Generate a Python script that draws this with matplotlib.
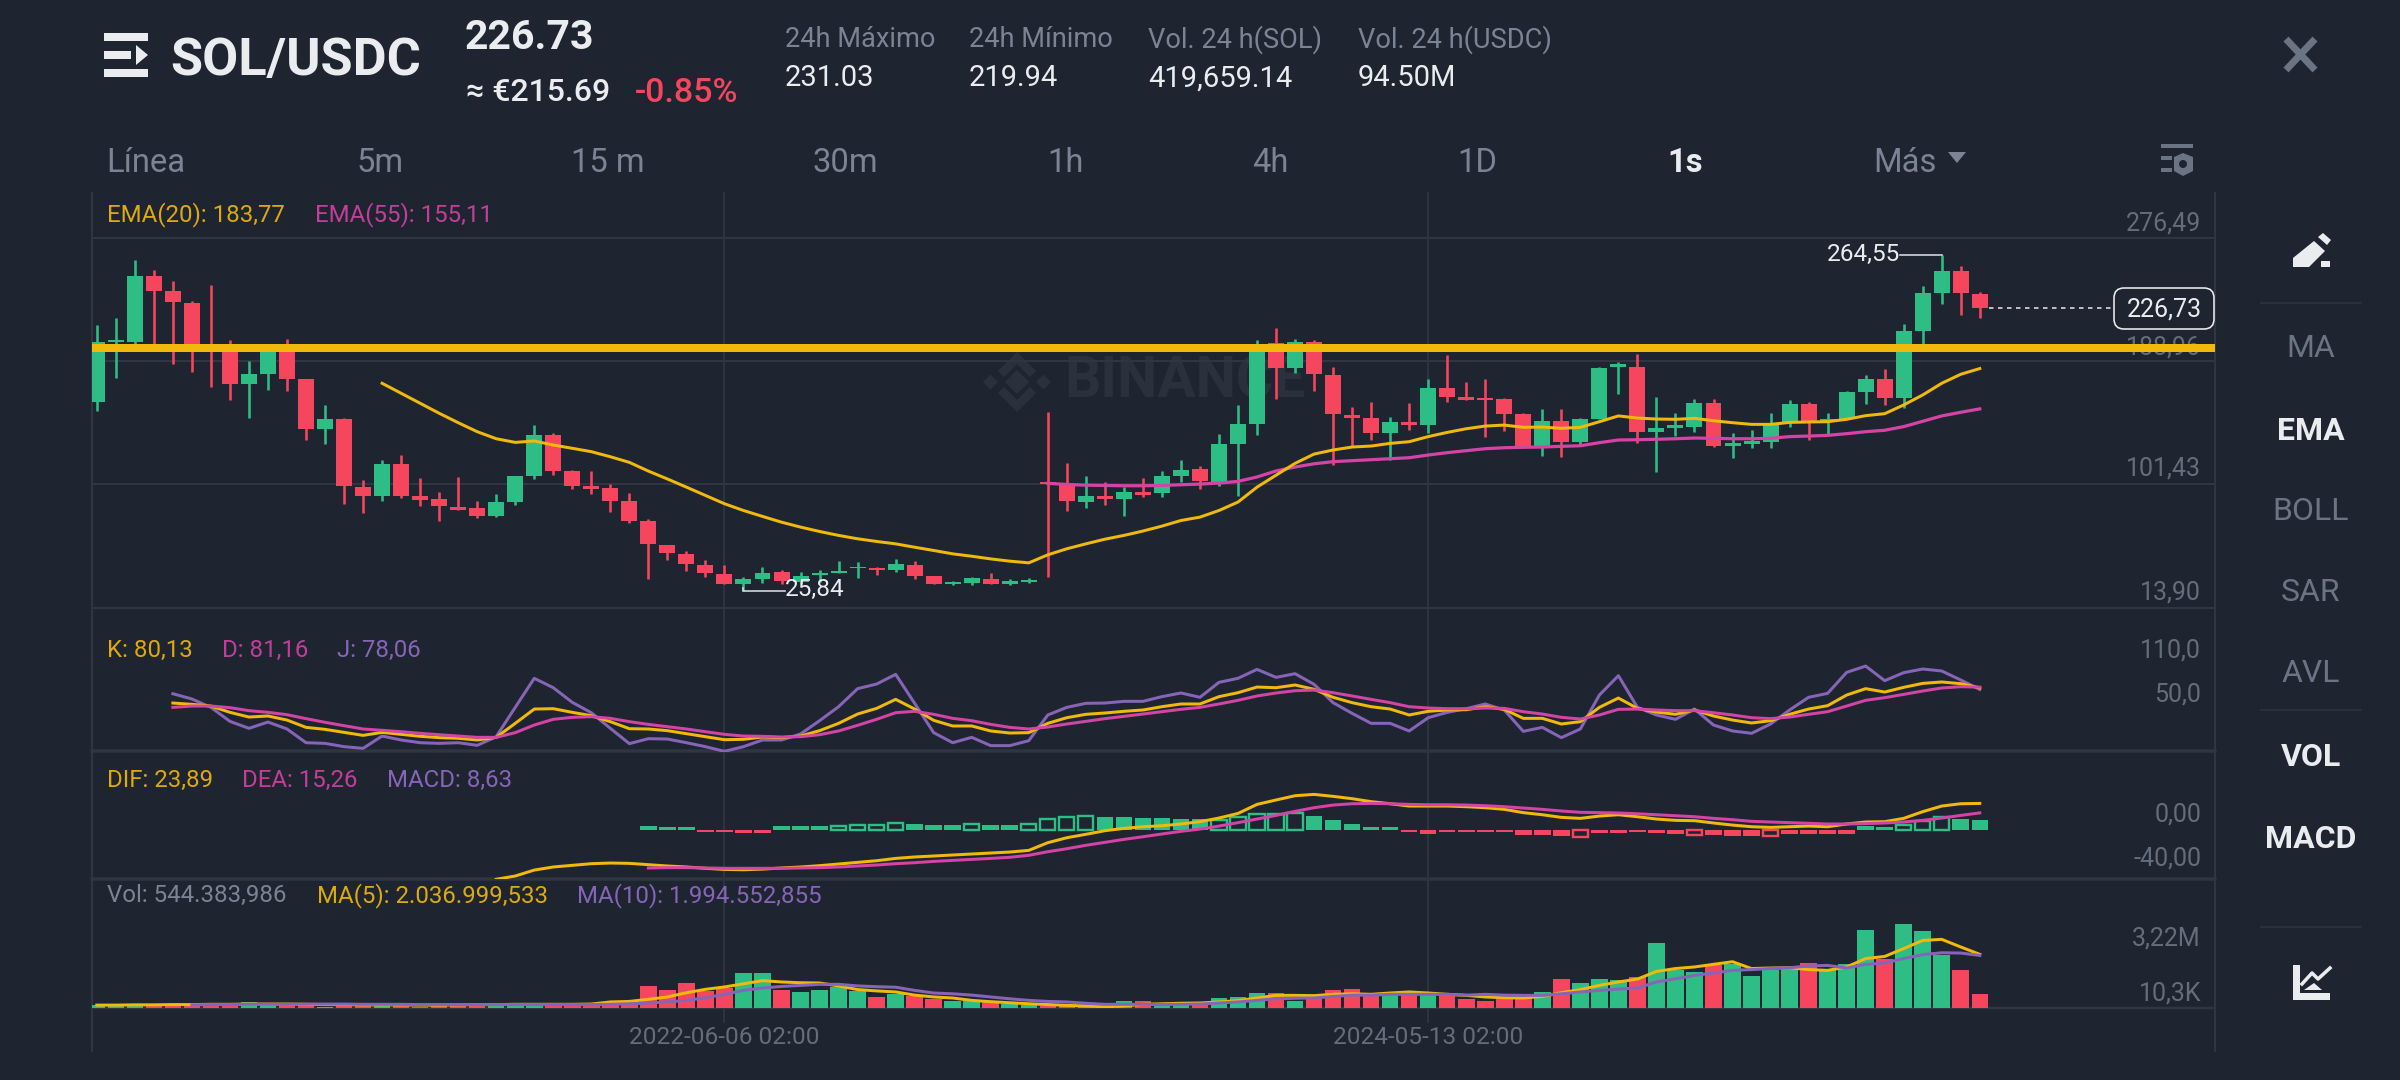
import numpy as np
import matplotlib
matplotlib.use("Agg")
import matplotlib.pyplot as plt
from matplotlib.patches import Polygon, Rectangle, FancyBboxPatch, Circle

# ---------- data ----------
open_ = [160.3,202.5,202.7,249.7,238.8,230.2,199.4,199.4,173.1,180.0,
 199.4,176.4,140.8,148.0,99.5,93.4,115.7,92.9,91.0,85.3,
 84.6,78.9,88.6,107.1,136.8,110.9,100.3,99.1,89.6,75.3,
 58.7,52.1,44.3,38.1,30.5,34.1,39.0,32.4,37.2,38.6,
 41.9,42.1,40.5,44.5,36.2,30.5,31.7,34.5,31.0,32.4,
 103.1,100.9,89.1,93.4,90.8,95.7,95.3,107.4,112.1,103.1,
 130.1,144.6,201.8,184.0,202.5,179.2,151.0,148.6,138.2,145.8,
 143.9,170.0,163.3,162.9,162.2,151.2,128.7,146.5,131.6,147.9,
 184.9,184.9,138.4,141.8,142.2,159.1,128.5,130.4,131.8,145.5,
 158.6,146.3,147.9,167.4,176.4,162.6,210.5,237.8,253.0,236.9]
close = [202.5,204.4,249.7,238.8,231.4,198.2,197.0,173.1,180.0,199.4,
 176.6,140.8,148.0,100.0,93.4,115.7,92.9,90.5,85.8,83.4,
 78.9,88.6,107.1,136.5,111.2,100.3,98.4,89.8,75.3,59.0,
 52.8,45.0,38.3,30.5,34.3,38.8,33.1,36.2,38.6,40.0,
 42.8,40.9,44.7,36.4,30.5,31.9,34.8,31.0,32.6,33.8,
 101.7,89.3,93.4,90.8,95.7,94.1,107.1,111.9,103.6,129.9,
 144.1,195.6,184.0,202.5,179.7,151.7,148.6,138.2,145.8,143.4,
 170.0,163.3,161.4,161.2,151.2,128.7,146.5,131.6,147.9,184.5,
 186.8,138.4,141.5,143.4,159.1,128.5,130.6,132.0,143.6,158.6,
 146.0,148.2,167.1,176.4,162.6,210.1,237.4,253.0,237.1,226.73]
high = [214.8,220.0,260.6,253.7,246.1,231.9,243.3,204.1,189.2,200.6,
 204.9,176.4,157.6,148.4,104.5,118.5,122.5,105.7,95.7,106.4,
 89.8,94.6,107.1,143.4,138.2,111.9,110.7,101.7,95.0,77.2,
 58.7,54.2,47.8,44.3,35.7,42.6,40.7,39.3,40.7,47.1,
 46.2,42.8,48.1,46.9,36.2,32.6,35.7,38.8,34.1,35.0,
 152.9,116.8,107.1,103.1,99.5,106.2,110.7,118.5,114.7,137.5,
 157.6,204.4,212.9,204.9,204.1,184.7,156.2,160.0,149.1,159.3,
 176.2,193.5,174.0,176.4,163.1,152.0,155.0,154.8,148.4,185.2,
 188.5,193.9,163.6,152.2,162.4,162.0,137.7,139.9,152.4,161.7,
 160.0,152.2,167.6,179.2,183.3,215.5,242.1,264.55,256.8,238.3]
low = [153.4,177.3,201.3,199.4,187.1,181.4,170.5,161.2,148.4,168.6,
 167.9,133.2,130.1,87.7,80.8,89.3,91.5,85.8,75.3,83.4,
 77.7,78.2,87.0,105.5,108.3,98.4,94.8,82.0,73.7,34.3,
 47.8,39.8,35.5,30.5,25.84,31.5,30.8,30.8,31.9,38.6,
 34.8,37.4,39.0,34.1,30.5,30.0,30.3,30.8,29.8,31.5,
 35.9,82.7,84.8,86.9,78.7,92.2,92.4,103.3,98.1,100.5,
 92.9,136.5,162.4,180.4,168.1,115.2,128.2,132.8,118.8,140.1,
 138.2,159.8,161.4,135.1,139.6,128.0,121.6,120.9,128.7,147.7,
 165.5,131.1,110.0,135.8,138.9,128.0,120.4,127.1,127.3,142.2,
 133.2,137.5,147.7,158.8,158.1,155.5,199.4,229.8,221.7,220.0]

ema20_start = 15
ema20 = [173.3,166.2,159.1,152.0,145.3,138.9,133.9,131.3,132.3,129.4,127.1,124.7,121.1,117.1,110.9,105.3,
 99.5,93.6,87.7,82.9,78.7,74.6,71.1,68.0,65.2,62.8,60.9,59.2,56.8,54.5,52.1,50.4,48.5,46.9,45.7,
 51.4,55.7,59.2,62.5,65.2,68.3,71.8,75.8,78.2,82.9,88.9,99.5,108.0,116.4,123.0,125.9,128.0,128.7,130.6,131.8,
 135.4,138.4,141.0,142.9,143.6,142.0,142.2,141.3,142.0,146.0,150.1,148.6,147.9,147.7,148.4,146.7,145.3,144.1,
 144.1,145.5,145.8,146.0,147.7,150.3,151.7,157.9,165.0,173.3,179.7,183.77]
ema55_start = 50
ema55 = [102.2,101.4,100.9,100.7,100.5,100.5,100.7,101.2,101.7,102.4,103.6,106.7,111.0,113.8,116.1,117.6,118.3,
 119.0,119.7,120.4,122.3,124.0,125.4,126.8,127.5,127.8,128.0,128.5,128.9,131.1,133.0,133.2,133.5,133.9,134.4,
 134.2,133.9,133.9,134.2,135.4,135.8,136.3,137.5,138.9,139.9,142.5,146.3,150.1,152.7,155.11]
support_level = 198.5

kdj_start = 4
kdj_j = [72.2,65.0,53.6,34.5,25.0,33.6,24.1,5.4,4.5,0.0,-2.3,14.5,9.1,5.4,4.5,5.4,1.8,13.6,53.6,93.2,
 80.4,60.4,46.3,25.0,4.1,10.9,10.4,5.4,0.0,-6.4,0.0,9.1,9.1,17.3,35.4,54.5,79.1,85.4,98.6,59.1,
 19.1,5.4,12.7,1.4,1.4,8.2,43.2,53.6,
 59.1,59.5,61.8,61.8,68.2,73.2,67.3,87.7,93.2,105.4,94.5,99.5,85.0,60.0,45.4,31.8,31.8,21.4,39.5,46.8,
 51.8,58.2,50.0,20.9,26.3,12.3,24.1,70.4,96.8,53.6,43.2,37.3,51.3,29.5,21.4,18.2,30.9,50.0,67.3,72.7,
 101.3,109.9,90.0,100.9,105.9,103.2,90.9,78.06]
kdj_k = [59.5,57.7,55.4,46.8,40.4,41.8,36.3,26.3,23.6,19.5,15.4,19.5,16.8,14.1,12.3,11.4,9.1,12.7,31.8,51.3,
 51.8,46.8,42.2,34.1,24.5,24.1,21.8,17.7,13.6,9.5,10.0,13.2,12.3,14.5,21.8,31.8,44.5,52.2,64.5,51.3,
 35.9,28.2,28.2,21.4,18.6,19.1,31.8,39.5,
 44.1,45.9,48.2,50.0,54.5,58.2,58.2,68.2,73.6,81.3,80.4,84.1,78.2,67.3,60.0,54.5,51.3,43.2,48.2,50.0,
 50.4,54.5,50.9,38.6,38.6,30.9,34.1,53.6,66.3,52.2,47.2,44.1,50.0,41.8,36.3,32.3,35.4,44.1,51.3,55.9,
 70.4,79.1,74.5,80.9,86.3,88.2,85.9,80.13]
kdj_d = [53.6,55.4,55.4,53.2,49.1,46.8,43.6,38.2,33.2,28.6,24.1,22.3,20.4,18.2,16.3,14.5,12.7,12.7,19.1,29.5,
 37.3,40.0,40.9,38.6,34.1,30.4,27.2,24.1,20.4,16.8,14.5,14.1,13.2,13.6,16.3,21.4,29.1,37.3,46.3,48.2,
 44.1,38.6,35.4,30.4,26.3,24.1,26.8,30.9,
 34.5,38.2,41.3,44.5,47.7,50.9,53.6,58.2,63.2,69.1,73.2,76.3,77.2,73.6,69.1,64.5,60.0,54.5,52.7,51.8,
 51.8,52.7,52.2,47.7,44.5,40.0,37.7,43.2,50.9,51.3,50.0,49.1,49.1,46.3,43.2,39.5,38.2,40.4,44.1,47.7,
 55.4,63.2,66.8,71.3,75.9,80.0,81.8,81.16]

dif_start = 21
dif = [-45.1,-42.1,-36.7,-33.9,-32.4,-30.9,-30.3,-30.6,-31.8,-33.0,-33.9,-35.1,-36.1,-36.4,-35.8,-34.8,-33.9,-32.7,-31.2,-29.7,
 -28.2,-26.1,-24.8,-23.9,-23.0,-22.1,-21.2,-20.3,-18.8,-11.8,-7.3,
 -4.2,-0.9,1.2,2.7,3.6,5.2,7.3,10.6,14.8,23.0,27.0,30.9,32.1,30.3,28.2,25.5,23.6,21.5,21.5,21.5,
 20.9,20.0,18.5,15.5,13.6,11.2,10.3,12.4,13.6,11.8,9.7,8.5,8.2,6.1,4.2,2.7,2.1,2.7,3.3,2.7,
 5.2,7.0,7.3,10.3,16.4,21.5,23.6,23.89]
dea_start = 29
dea = [-34.8,-34.5,-34.5,-34.8,-35.1,-35.1,-35.1,-35.1,-34.8,-34.5,-33.9,-33.0,-32.1,-30.9,-30.0,-28.8,-27.9,-27.0,-26.1,-25.1,
 -23.3,-20.0,-17.3,
 -14.2,-11.5,-8.8,-6.4,-3.9,-1.5,0.6,3.3,6.4,9.7,13.0,16.7,20.0,22.4,23.6,23.9,23.6,23.0,22.7,22.7,
 22.4,21.8,20.9,19.7,18.5,17.0,15.8,15.5,15.2,14.5,13.6,12.7,11.8,10.3,9.1,7.6,7.0,6.4,5.8,5.2,
 5.2,5.5,6.1,7.0,8.5,10.6,13.0,15.26]
hist_start = 29
hist = [3.3,2.7,2.4,-2.4,-2.4,-3.3,-3.3,3.3,3.3,3.3,3.3,4.2,4.5,5.8,4.8,4.5,4.5,5.2,4.5,4.5,
 5.2,9.4,11.2,12.4,11.5,11.2,10.3,10.3,9.7,9.4,8.8,11.2,14.2,14.2,15.5,12.4,8.5,5.2,2.4,2.4,
 -2.4,-3.6,-2.4,-2.4,-2.4,-2.4,-4.8,-4.8,-5.8,-6.4,-3.3,-3.3,-2.4,-3.0,-3.6,-4.5,-4.8,-5.8,-5.8,-5.8,
 -3.6,-3.6,-3.6,-3.6,3.3,2.4,4.5,7.9,11.2,10.0,8.63]
hist_hollow = [39,40,41,42,46,49,50,51,52,59,60,61,62,63,78,84,88,95,96,97]

volume = [0.10,0.10,0.10,0.10,0.10,0.10,0.13,0.13,0.24,0.13,
 0.14,0.14,0.04,0.14,0.14,0.13,0.10,0.04,0.14,0.14,
 0.14,0.14,0.14,0.14,0.14,0.14,0.14,0.23,0.23,0.82,
 0.70,0.96,0.65,0.75,1.32,1.32,0.67,0.61,0.70,0.80,
 0.63,0.42,0.54,0.44,0.33,0.27,0.32,0.23,0.16,0.10,
 0.06,0.06,0.10,0.13,0.25,0.27,0.20,0.19,0.16,0.38,
 0.42,0.57,0.57,0.27,0.35,0.70,0.71,0.44,0.48,0.48,
 0.57,0.57,0.34,0.28,0.42,0.39,0.62,1.09,0.96,1.11,
 1.06,1.18,2.48,1.46,1.38,1.62,1.66,1.23,1.43,1.50,
 1.70,1.43,1.69,2.98,1.88,3.21,2.93,2.00,1.46,0.544]
vol_ma5 = [0.11,0.11,0.12,0.12,0.13,0.13,0.14,0.14,0.15,0.15,0.15,0.14,0.13,0.13,0.12,0.12,0.12,0.11,0.11,0.12,0.13,0.13,0.14,0.14,0.14,0.14,0.15,
 0.23,0.25,0.33,0.42,0.58,0.71,0.80,0.92,1.04,0.99,0.96,0.95,0.84,0.70,0.65,0.61,0.49,0.42,0.38,0.29,0.24,0.20,0.16,0.13,0.10,
 0.08,0.04,0.08,0.14,0.16,0.18,0.19,0.23,0.28,0.38,0.48,0.48,0.47,0.52,0.54,0.52,0.57,0.61,0.57,0.52,
 0.48,0.42,0.39,0.38,0.44,0.58,0.70,0.86,0.99,1.10,1.39,1.50,1.56,1.66,1.76,1.50,1.52,1.53,1.46,1.43,
 1.56,1.88,1.96,2.26,2.57,2.61,2.32,2.04]
vol_ma10_start = 5
vol_ma10 = [0.12,0.13,0.13,0.14,0.14,0.14,0.15,0.15,0.15,0.14,0.14,0.14,0.13,0.13,0.13,0.13,0.13,0.13,0.13,0.13,0.13,0.13,0.14,0.16,
 0.19,0.23,0.29,0.39,0.52,0.67,0.76,0.82,0.86,0.90,0.90,0.84,0.81,0.79,0.67,0.57,0.54,0.49,0.42,0.35,0.29,0.25,0.23,
 0.18,0.14,0.14,0.14,0.13,0.14,0.15,0.19,0.23,0.29,0.35,0.37,0.38,0.44,0.49,0.49,0.52,0.52,0.52,0.52,
 0.49,0.52,0.49,0.48,0.48,0.54,0.61,0.67,0.72,0.76,0.99,1.11,1.24,1.33,1.43,1.46,1.50,1.53,1.60,1.62,
 1.52,1.66,1.71,1.88,2.03,2.10,2.09,2.00]

date_ticks = [33, 70]
date_labels = ["2022-06-06 02:00", "2024-05-13 02:00"]
price_grid = [276.49, 188.96, 101.43, 13.90]
tabs = ["Línea", "5m", "15 m", "30m", "1h", "4h", "1D", "1s"]
side_items = ["MA", "EMA", "BOLL", "SAR", "AVL", "VOL", "MACD"]
side_active = ["EMA", "VOL", "MACD"]
stat_heads = ["24h Máximo", "24h Mínimo", "Vol. 24 h(SOL)", "Vol. 24 h(USDC)"]
stat_vals = ["231.03", "219.94", "419,659.14", "94.50M"]

# ---------- style ----------
BG = "#1F2530"; GRID = "#2F3541"; SEP = "#303641"
GREEN = "#2EBD85"; RED = "#F6465D"; YEL = "#F0B90B"; MAG = "#D444A6"; PUR = "#8665B8"
GREY = "#7B8492"; AXG = "#646D7A"; WHITE = "#EAECEF"
plt.rcParams["font.family"] = ["Roboto", "DejaVu Sans"]
px = 0.72
W, H = 2400, 1080
fig = plt.figure(figsize=(24, 10.8), dpi=100, facecolor=BG)

bg = fig.add_axes([0, 0, 1, 1], zorder=0)
bg.set_xlim(0, W); bg.set_ylim(H, 0); bg.axis("off")

X0, X1 = 92, 2215
STEP = 19.02; XC0 = 96.8
LW = 3.0
def panel(top, bottom, ylim):
    ax = fig.add_axes([X0/W, 1-bottom/H, (X1-X0)/W, (bottom-top)/H], zorder=2)
    ax.set_xlim((X0-XC0)/STEP, (X1-XC0)/STEP)
    ax.set_ylim(*ylim); ax.axis("off"); ax.patch.set_alpha(0)
    return ax
def rng(start, arr):
    return np.arange(start, start+len(arr))
def T(x, y, s, size, color, ha="left", weight="normal", **k):
    bg.text(x, y+1.5, s, fontsize=size, color=color, ha=ha, va="center", fontweight=weight, **k)
def poly(pts, color, ax=bg, **k):
    ax.add_patch(Polygon(pts, closed=True, facecolor=color, edgecolor="none", **k))

# chrome lines
for xv in (X0, X1):
    bg.plot([xv, xv], [193, 1051], color=GRID, lw=2*px, zorder=1)
for t in date_ticks:
    xv = XC0 + STEP*t
    bg.plot([xv, xv], [193, 1022], color=GRID, lw=1.8*px, zorder=1)
for yv, lw in ((751, 3.5), (879, 3.5), (1008, 2.5)):
    bg.plot([X0, X1], [yv, yv], color=SEP, lw=lw*px, zorder=1)

# watermark
lx, ly = 1017, 382
WM = "#2B313C"
poly([(lx-12, ly), (lx, ly-12), (lx+12, ly), (lx, ly+12)], WM)
for c in (-26.5, 26.5):
    poly([(lx+c-7.5, ly), (lx+c, ly-7.5), (lx+c+7.5, ly), (lx+c, ly+7.5)], WM)
poly([(lx, ly-30), (lx+19, ly-11), (lx+13, ly-5), (lx, ly-18), (lx-13, ly-5), (lx-19, ly-11)], WM)
poly([(lx, ly+30), (lx+19, ly+11), (lx+13, ly+5), (lx, ly+18), (lx-13, ly+5), (lx-19, ly+11)], WM)
T(1064, 380, "BINANCE", 41, WM, weight="bold")

# ---------- main ----------
ax = panel(193, 607.6, (13.90, 276.49 + 45*87.53/123))
x = np.arange(len(close))
up = np.array(close) >= np.array(open_)
cols = [GREEN if u else RED for u in up]
for h in price_grid:
    ax.axhline(h, color=GRID, lw=2*px, zorder=1, clip_on=False)
ax.vlines(x, low, high, colors=cols, lw=2.6*px, zorder=3)
ax.bar(x, np.abs(np.array(close)-np.array(open_)), bottom=np.minimum(open_, close),
       width=0.84, color=cols, zorder=3, linewidth=0)
ax.plot(rng(ema55_start, ema55), ema55, color=MAG, lw=3.2*px, zorder=4)
ax.plot(rng(ema20_start, ema20), ema20, color=YEL, lw=LW*px, zorder=5)
ax.axhline(support_level, color=YEL, lw=8*px, zorder=6)
# high / low / last markers
imax = int(np.argmax(high)); imin = int(np.argmin(low))
ax.plot([imax-2.17, imax, imax], [high[imax], high[imax], high[imax]-0.1], color="#D8DCE2", lw=1.6*px, zorder=5)
ax.text(imax-2.2, high[imax], "264,55", color=WHITE, fontsize=17.6, ha="right", va="center", zorder=7)
ax.plot([imin, imin, imin+2.2], [low[imin]+2, low[imin], low[imin]], color="#D8DCE2", lw=1.6*px, zorder=5)
ax.text(imin+2.2, low[imin]+1, "25,84", color=WHITE, fontsize=17.6, ha="left", va="center", zorder=7)
ax.plot([99.5, (2112-XC0)/STEP], [close[-1], close[-1]], color=WHITE, lw=1.5*px, ls=(0, (3, 3)), zorder=5)

# ---------- KDJ ----------
ax2 = panel(608, 751.5, (110-85.5/0.7333, 110+58/0.7333))
xk = rng(kdj_start, kdj_j)
ax2.plot(xk, kdj_j, color=PUR, lw=LW*px, zorder=3)
ax2.plot(xk, kdj_k, color=YEL, lw=LW*px, zorder=4)
ax2.plot(xk, kdj_d, color=MAG, lw=LW*px, zorder=5)

# ---------- MACD ----------
ax3 = panel(751, 879, (-49.3/1.1, 78.7/1.1))
xh = rng(hist_start, hist)
for xi, v in zip(xh, hist):
    c = GREEN if v >= 0 else RED
    if xi in hist_hollow:
        ax3.bar(xi, v, width=0.8, facecolor="none", edgecolor=c, linewidth=2.4*px, zorder=2)
    else:
        ax3.bar(xi, v, width=0.87, color=c, linewidth=0, zorder=2)
ax3.plot(rng(dif_start, dif), dif, color=YEL, lw=LW*px, zorder=3)
ax3.plot(rng(dea_start, dea), dea, color=MAG, lw=LW*px, zorder=4)

# ---------- volume ----------
ax4 = panel(879, 1008, (0, 129/26.3))
ax4.bar(x, volume, width=0.87, color=cols, linewidth=0, zorder=2)
ax4.plot(rng(0, vol_ma5), vol_ma5, color=YEL, lw=LW*px, zorder=3)
ax4.plot(rng(vol_ma10_start, vol_ma10), vol_ma10, color=PUR, lw=LW*px, zorder=4)

# ---------- legends ----------
LS = 17.3
for xp, yp, s, c in [
    (107, 213, "EMA(20): 183,77", "#DDAA0D"), (315, 213, "EMA(55): 155,11", "#C23F99"),
    (107, 649, "K: 80,13", "#DDAA0D"), (222, 649, "D: 81,16", "#C23F99"), (337, 649, "J: 78,06", PUR),
    (107, 779, "DIF: 23,89", "#DDAA0D"), (242, 779, "DEA: 15,26", "#C23F99"), (387, 779, "MACD: 8,63", PUR),
    (107, 894, "Vol: 544.383,986", GREY), (317, 894, "MA(5): 2.036.999,533", "#DDAA0D"),
    (577, 894, "MA(10): 1.994.552,855", PUR)]:
    T(xp, yp, s, LS, c)

# axis labels
for yp, s in [(222, "276,49"), (346, "188,96"), (467, "101,43"), (591, "13,90"), (649, "110,0"), (693, "50,0"),
              (813, "0,00"), (857, "-40,00"), (937, "3,22M"), (992, "10,3K")]:
    T(2201, yp, s, 18, AXG, ha="right")
for t, s in zip(date_ticks, date_labels):
    T(XC0+STEP*t, 1036, s, 17.6, AXG, ha="center")

# price tag
bg.add_patch(FancyBboxPatch((2121, 295), 86, 27, boxstyle="round,pad=7,rounding_size=10",
             facecolor=BG, edgecolor=WHITE, linewidth=1.6*px, zorder=3))
bg.text(2164, 309, "226,73", color=WHITE, fontsize=18, ha="center", va="center", zorder=4)

# ---------- header ----------
for y0, y1, x1 in ((33, 41, 148), (51, 59, 131), (69, 77, 148)):
    bg.add_patch(Rectangle((104, y0), x1-104, y1-y0, facecolor=WHITE, edgecolor="none"))
poly([(136, 45), (148, 55), (136, 65)], WHITE)
T(170, 59.5, "SOL/USDC", 37.6, WHITE, weight="bold")
T(465, 36.5, "226.73", 29.5, WHITE, weight="bold")
T(466, 91, "≈ €215.69", 23, WHITE, weight="medium")
T(635, 91, "-0.85%", 24.5, RED, weight="medium")
for xp, a, b in zip((785, 969, 1148, 1358), stat_heads, stat_vals):
    T(xp, 38, a, 19.6, GREY)
    T(xp, 77, b, 21, WHITE)

# tabs
for xp, s in zip((146, 380, 608, 845, 1065, 1270, 1477, 1685), tabs):
    act = s == "1s"
    T(xp, 161, s, 23.6, WHITE if act else GREY, ha="center", weight="bold" if act else "normal")
T(1905, 161, "Más", 23.6, GREY, ha="center")
poly([(1948, 152), (1966, 152), (1957, 163)], GREY)

# settings icon
ICON = "#6B7482"
bg.add_patch(Rectangle((2161, 144), 32, 4, facecolor=ICON))
bg.add_patch(Rectangle((2161, 156), 11, 4, facecolor=ICON))
bg.add_patch(Rectangle((2161, 168), 11, 4, facecolor=ICON))
poly([(2174, 157), (2183, 153), (2193, 157), (2193, 171), (2183, 176), (2174, 171)], ICON)
bg.add_patch(Circle((2183, 164), 4, facecolor=BG))
# close
bg.plot([2286, 2315], [39, 70], color=ICON, lw=7*px, solid_capstyle="butt")
bg.plot([2286, 2315], [70, 39], color=ICON, lw=7*px, solid_capstyle="butt")

# side column
for yp in (303, 710, 927):
    bg.plot([2261, 2361], [yp, yp], color=GRID, lw=1.5*px)
for yp, s in zip((347, 429, 510, 591, 672, 755, 837), side_items):
    act = s in side_active
    T(2311, yp, s, 23, WHITE if act else ICON, ha="center", weight="bold" if act else "normal")
# pencil
poly([(2293, 267), (2293, 258), (2314, 241), (2325, 251), (2309, 267)], WHITE)
poly([(2318, 237), (2323, 233), (2331, 240), (2327, 245)], WHITE)
bg.add_patch(Rectangle((2321, 261), 9, 6, facecolor=WHITE))
# chart icon
bg.add_patch(Rectangle((2293, 965), 7, 35, facecolor=WHITE))
bg.add_patch(Rectangle((2293, 993), 37, 7, facecolor=WHITE))
bg.plot([2302, 2312, 2318, 2330], [984, 973, 979, 968], color=WHITE, lw=3.5*px)
poly([(2304, 990), (2314, 983), (2322, 990)], WHITE)

fig.savefig("out.png", dpi=100, facecolor=BG)
